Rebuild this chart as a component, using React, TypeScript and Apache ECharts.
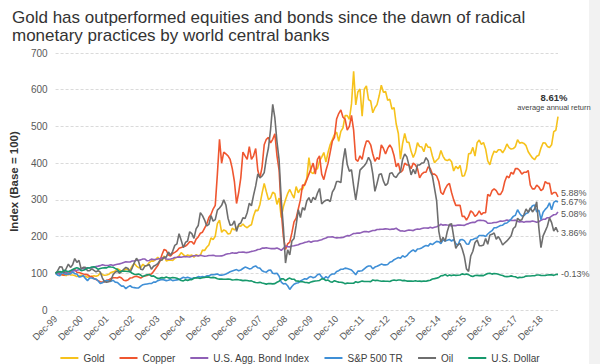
import React, { useEffect, useRef } from "react";
import * as echarts from "echarts";

const MONTHS = ["Jan","Feb","Mar","Apr","May","Jun","Jul","Aug","Sep","Oct","Nov","Dec"];
// Monthly observations Dec-1999 .. Aug-2019
const categories: string[] = (() => {
  const out: string[] = ["Dec-99"];
  for (let y = 2000; y <= 2019; y++) {
    for (let m = 0; m < 12; m++) {
      if (y === 2019 && m > 7) break;
      out.push(`${MONTHS[m]}-${String(y % 100).padStart(2, "0")}`);
    }
  }
  return out;
})();

const seriesNames = ["Gold", "Copper", "U.S. Agg. Bond Index", "S&P 500 TR", "Oil", "U.S. Dollar"];
const seriesColors = ["#f6c21c", "#ef5630", "#8f5fb6", "#3f8fd6", "#6e6e6e", "#17996c"];
const endReturns = ["8.61%", "5.88%", "5.08%", "5.67%", "3.86%", "-0.13%"];
const endLabelShift = [[0, 0], [0, -4], [0, 2], [0, 0], [0, 1], [0, 0]];
const goldNote = "average annual return";
const yTicks = { min: 0, max: 700, interval: 100 };
const yAxisTitle = "Index (Base = 100)";
const titleLines = [
  "Gold has outperformed equities and bonds since the dawn of radical",
  "monetary practices by world central banks",
];

const gold = [100,
  97.6, 105, 95.9, 94.8, 93.8, 99.3, 95.2, 95.5, 94.1, 91.0, 93.1, 94.5,
  91.4, 92.1, 89.0, 90.7, 92.1, 93.1, 91.7, 94.1, 101, 96.2, 94.8, 95.5,
  97.2, 102.4, 103.8, 106.2, 112.4, 109.7, 104.8, 107.6, 111.7, 109.3, 110, 119.7,
  126.6, 119.7, 115.2, 115.9, 124.5, 119.3, 122.1, 129.3, 133.8, 133.1, 137.2, 143.4,
  137.6, 136.6, 147.2, 133.8, 135.5, 136.2, 134.8, 140.7, 143.4, 147.6, 156.2, 151,
  145.5, 150, 147.6, 150, 143.8, 150.7, 147.9, 149.3, 163.1, 162.1, 171, 176.9,
  196.2, 191.7, 201, 235, 245, 211.7, 218.3, 215.2, 206.9, 208.3, 222.8, 217.9,
  224.5, 229.3, 228.3, 234.1, 227.6, 224.1, 229.3, 232.1, 256.2, 272.1, 270, 287.6,
  318.3, 345, 322, 300.7, 305.5, 320.7, 316.6, 287.6, 304.8, 251.7, 281, 300,
  316.9, 328.3, 315.9, 304.5, 336.2, 319.3, 329.3, 329.3, 343.4, 358.6, 415, 374.8,
  371.7, 382.4, 384.5, 406.6, 416.2, 429, 403.1, 429.7, 450.7, 464.1, 477.9, 484.5,
  459.7, 486.6, 496.2, 529.3, 529.7, 519.3, 561.4, 650, 558.6, 593.8, 602.1, 527.9,
  601.4, 610.3, 573.1, 569.3, 537.2, 551, 559.3, 583.4, 612.4, 593.1, 595.2, 571.4,
  573.8, 547.6, 551, 506.6, 480.7, 411, 453.1, 480.7, 457.2, 456.6, 432.1, 415.5,
  429, 455.5, 445.2, 444.1, 431, 453.4, 443.1, 443.1, 419.3, 401.4, 407.9, 413.4,
  434.5, 418.6, 409.3, 406.9, 410.7, 403.8, 378.6, 391.4, 384.5, 393.8, 364.5, 365.5,
  383.1, 425.5, 426.6, 443.1, 419, 455.5, 462.8, 451.4, 455.9, 438.6, 406.2, 395.2,
  417.9, 432.8, 429.3, 436.6, 436.6, 428.3, 437.6, 452.1, 442.4, 438.3, 439.7, 445.2,
  463.8, 454.5, 456.2, 453.8, 447.6, 431, 422.1, 414.1, 409.3, 419, 421.4, 441,
  455.5, 454.8, 445.5, 442.4, 450, 485.9, 489.7, 526.9];

const copper = [100,
  102, 97, 96, 95, 99, 96, 104, 108, 110, 103, 102, 100,
  98, 97, 96, 92, 91, 86, 83, 80, 77, 76, 77, 81,
  82, 86, 88, 88, 87, 90, 87, 81, 80, 82, 87, 88,
  91, 92, 90, 87, 91, 93, 94, 97, 98, 105, 113, 121,
  133, 151, 165, 162, 150, 147, 154, 157, 161, 168, 170, 173,
  174, 179, 186, 186, 179, 193, 199, 209, 212, 223, 234, 252,
  260, 275, 285, 370, 465, 400, 430, 425, 420, 410, 385, 350,
  290, 320, 360, 430, 420, 410, 445, 410, 420, 440, 380, 360,
  390, 450, 465, 470, 455, 465, 480, 420, 380, 270, 200, 165,
  180, 185, 210, 240, 250, 275, 300, 340, 340, 355, 370, 385,
  400, 370, 410, 420, 370, 355, 380, 400, 430, 460, 470, 520,
  535, 545, 525, 520, 490, 500, 530, 490, 410, 405, 420, 410,
  440, 460, 460, 450, 425, 405, 415, 410, 450, 440, 425, 440,
  450, 440, 420, 390, 400, 375, 380, 400, 395, 395, 385, 400,
  395, 385, 360, 370, 375, 375, 390, 385, 370, 370, 365, 350,
  320, 315, 330, 340, 345, 320, 300, 285, 285, 285, 255, 255,
  245, 255, 270, 265, 255, 260, 270, 260, 265, 265, 315, 310,
  325, 330, 325, 315, 315, 325, 350, 365, 360, 375, 370, 385,
  385, 380, 370, 375, 375, 380, 340, 330, 330, 340, 335, 325,
  330, 350, 345, 345, 315, 320, 320, 308];

const bond = [100,
  99.7, 101.0, 102.4, 102.1, 102.0, 104.1, 105.1, 106.6, 107.3, 108.0, 109.8, 111.6,
  113.4, 114.4, 115.0, 114.5, 115.2, 115.6, 118.2, 119.5, 120.9, 123.4, 121.7, 121.0,
  121.9, 123.1, 121.1, 123.4, 124.5, 125.6, 127.1, 129.3, 131.4, 130.8, 130.8, 133.4,
  133.6, 135.5, 135.4, 136.5, 139.1, 138.8, 134.1, 135.0, 138.6, 137.3, 137.6, 138.9,
  140.1, 141.6, 142.7, 139.0, 138.4, 139.1, 140.5, 143.2, 143.5, 144.7, 143.5, 144.9,
  145.8, 145.0, 144.3, 146.2, 147.8, 148.6, 147.2, 149.1, 147.6, 146.4, 147.0, 148.4,
  148.5, 149.0, 147.5, 147.2, 147.0, 147.3, 149.3, 151.6, 153.0, 154.1, 155.9, 154.8,
  154.8, 157.2, 157.2, 158.0, 156.9, 156.4, 157.7, 159.6, 160.8, 162.2, 165.0, 165.6,
  168.4, 168.6, 169.5, 168.4, 167.3, 167.4, 167.2, 168.8, 166.4, 162.4, 167.7, 174.2,
  172.6, 172.0, 174.4, 175.2, 176.5, 177.5, 180.3, 182.1, 184.1, 185.0, 187.4, 184.5,
  187.3, 188.0, 187.8, 189.8, 191.3, 194.3, 196.2, 198.7, 198.9, 199.6, 197.4, 196.5,
  196.7, 197.2, 197.3, 200.0, 202.6, 202.0, 205.3, 208.3, 208.8, 209.6, 209.4, 211.8,
  213.6, 213.6, 212.4, 214.6, 216.4, 216.5, 219.3, 219.5, 219.8, 220.3, 220.9, 220.7,
  219.1, 220.2, 220.4, 222.7, 218.5, 215.1, 215.4, 214.3, 216.3, 218.1, 217.3, 216.3,
  219.1, 220.5, 220.0, 221.7, 223.4, 223.5, 222.9, 225.3, 223.6, 225.3, 226.9, 229.3,
  233.5, 231.1, 232.2, 231.4, 230.9, 228.5, 230.1, 229.8, 231.3, 231.3, 230.7, 230.4,
  233.5, 235.3, 237.6, 238.6, 238.6, 242.9, 244.4, 244.1, 243.9, 241.9, 236.4, 236.4,
  236.9, 238.5, 238.4, 240.2, 242.1, 241.9, 242.9, 245.1, 244.0, 244.1, 243.8, 244.7,
  241.9, 239.6, 241.1, 239.3, 241.0, 240.6, 240.7, 242.3, 240.8, 238.9, 240.3, 244.7,
  247.3, 247.2, 251.4, 251.5, 255.7, 259.5, 260.1, 267.1];

const sp500 = [100,
  95, 93, 102, 99, 97, 99, 98, 104, 99, 98, 90, 91,
  94, 86, 80, 87, 87, 85, 84, 79, 72, 74, 79, 80,
  79, 78, 81, 76, 75, 70, 65, 65, 58, 63, 66, 62,
  61, 60, 60, 65, 69, 70, 71, 72, 72, 76, 76, 80,
  82, 83, 82, 80, 81, 83, 80, 81, 82, 83, 86, 89,
  87, 89, 87, 85, 88, 88, 91, 90, 91, 90, 93, 93,
  96, 96, 97, 98, 95, 95, 96, 98, 101, 104, 106, 108,
  110, 107, 109, 113, 117, 115, 112, 113, 118, 120, 115, 114,
  107, 104, 103, 108, 109, 100, 99, 100, 92, 76, 71, 72,
  66, 56, 64, 70, 73, 74, 79, 82, 85, 84, 89, 91,
  88, 90, 96, 98, 90, 85, 91, 87, 95, 98, 98, 105,
  107, 111, 111, 114, 113, 111, 109, 103, 96, 106, 106, 107,
  112, 117, 120, 120, 112, 117, 119, 122, 125, 123, 123, 124,
  130, 132, 137, 140, 143, 141, 148, 144, 148, 155, 160, 164,
  159, 166, 167, 169, 173, 176, 174, 181, 178, 183, 187, 186,
  181, 191, 188, 190, 192, 188, 192, 181, 176, 191, 192, 189,
  180, 179, 191, 192, 195, 196, 203, 203, 203, 200, 207, 212,
  216, 224, 224, 227, 230, 231, 236, 237, 242, 248, 255, 258,
  273, 263, 256, 257, 263, 265, 275, 284, 286, 267, 272, 246,
  266, 274, 280, 292, 273, 293, 297, 294];

const oil = [100,
  107, 118, 117, 101, 113, 125, 116, 123, 140, 130, 135, 112,
  116, 116, 107, 107, 112, 108, 104, 107, 103, 87, 77, 76,
  77, 81, 96, 103, 106, 100, 105, 111, 116, 113, 103, 115,
  129, 141, 132, 111, 110, 120, 121, 124, 111, 119, 122, 126,
  135, 136, 144, 144, 158, 149, 160, 176, 180, 208, 190, 170,
  184, 188, 213, 208, 195, 221, 230, 265, 257, 245, 229, 233,
  257, 242, 246, 272, 278, 285, 300, 286, 250, 231, 232, 243,
  214, 233, 237, 251, 249, 265, 291, 284, 313, 338, 371, 360,
  365, 374, 413, 442, 492, 560, 523, 458, 408, 300, 225, 128,
  164, 150, 188, 195, 231, 273, 252, 279, 272, 297, 306, 292,
  307, 300, 318, 331, 289, 295, 299, 300, 295, 321, 331, 350,
  350, 347, 404, 440, 396, 378, 382, 338, 300, 339, 381, 387,
  393, 401, 416, 405, 371, 323, 345, 369, 371, 351, 339, 345,
  372, 374, 364, 361, 371, 376, 410, 425, 417, 394, 368, 383,
  371, 395, 395, 400, 401, 415, 406, 378, 365, 331, 297, 215,
  185, 198, 187, 214, 233, 235, 200, 168, 178, 181, 166, 146,
  112, 105, 147, 160, 183, 191, 175, 175, 177, 195, 179, 204,
  206, 210, 193, 200, 190, 177, 183, 188, 195, 202, 222, 227,
  250, 244, 246, 260, 275, 266, 278, 267, 275, 295, 224, 170,
  202, 215, 228, 251, 238, 215, 225, 212];

const dollar = [100,
  103.7, 104.6, 103.4, 108.3, 106.4, 104.4, 107.3, 110.2, 112.9, 115.4, 113.2, 107.1,
  108.5, 110.4, 115.0, 114.3, 117.0, 117.9, 114.9, 110.9, 112.9, 114.2, 115.3, 114.7,
  118.0, 117.1, 116.4, 113.3, 110.3, 104.1, 105.8, 105.5, 105.4, 104.9, 104.6, 100.1,
  97.3, 96.9, 97.8, 95.1, 90.8, 93.9, 95.9, 96.6, 92.1, 93.0, 89.3, 85.8,
  86.8, 88.2, 87.0, 89.7, 87.5, 86.9, 88.6, 87.8, 86.3, 83.5, 80.4, 79.4,
  82.2, 80.7, 82.7, 82.8, 86.4, 87.8, 87.3, 86.2, 88.1, 88.6, 89.9, 89.5,
  87.8, 88.9, 87.9, 84.9, 84.0, 84.0, 83.9, 83.8, 84.4, 83.6, 81.6, 82.2,
  83.2, 82.2, 81.3, 80.0, 80.6, 80.3, 78.8, 79.3, 76.6, 74.7, 74.4, 75.3,
  73.6, 72.4, 70.5, 72.1, 71.8, 71.2, 71.9, 75.7, 78.1, 84.8, 85.2, 79.8,
  84.4, 86.9, 83.8, 83.9, 78.8, 78.6, 77.2, 77.0, 75.3, 75.1, 73.4, 76.5,
  78.0, 78.8, 79.5, 80.4, 84.8, 84.4, 80.2, 81.6, 77.2, 75.9, 79.8, 77.5,
  75.9, 75.5, 74.5, 71.7, 73.2, 72.9, 72.7, 72.9, 77.1, 74.9, 76.9, 78.7,
  77.8, 77.5, 77.5, 77.4, 81.7, 80.1, 81.1, 79.7, 78.5, 78.7, 78.5, 78.3,
  77.7, 80.5, 81.5, 80.4, 81.8, 81.7, 79.9, 80.6, 78.7, 78.7, 79.2, 78.5,
  79.7, 78.2, 78.6, 78.0, 78.9, 78.3, 80.0, 81.2, 84.4, 85.4, 86.8, 88.6,
  93.1, 93.6, 96.6, 92.9, 95.1, 93.7, 95.5, 94.3, 94.6, 95.3, 98.4, 96.9,
  97.8, 96.4, 92.9, 91.4, 94.1, 94.3, 93.7, 94.2, 93.6, 96.7, 99.6, 100.3,
  97.7, 99.2, 98.6, 97.3, 95.2, 93.8, 91.2, 91.0, 91.4, 92.9, 91.3, 90.4,
  87.5, 88.9, 88.5, 90.1, 92.3, 92.8, 92.8, 93.4, 93.4, 95.3, 95.5, 94.4,
  93.8, 94.4, 95.5, 95.7, 95.9, 94.3, 96.7, 97.1];

const seriesData = [gold, copper, bond, sp500, oil, dollar];

const FONT = "'Liberation Sans', Arial, Helvetica, sans-serif";

export default function App() {
  const ref = useRef<HTMLDivElement>(null);
  useEffect(() => {
    if (!ref.current) return;
    const chart = echarts.init(ref.current, undefined, { renderer: "svg" });
    const series = seriesNames.map((name, i) => ({
      name,
      type: "line" as const,
      data: seriesData[i],
      showSymbol: false,
      symbol: "none",
      smooth: false,
      lineStyle: { width: 1.6, color: seriesColors[i] },
      itemStyle: { color: seriesColors[i] },
      emphasis: { disabled: true },
      endLabel: i === 0
        ? {
            show: true,
            formatter: `{a|${endReturns[0]}}\n{b|${goldNote}}`,
            align: "center",
            verticalAlign: "bottom",
            offset: [-12, -4],
            rich: {
              a: { fontSize: 9.5, fontWeight: "bold", color: "#333", fontFamily: FONT, lineHeight: 11, align: "center" },
              b: { fontSize: 7.5, color: "#444", fontFamily: FONT, lineHeight: 10, align: "center" },
            },
          }
        : {
            show: true,
            formatter: endReturns[i],
            fontSize: 9,
            lineHeight: 8,
            color: "#555",
            fontFamily: FONT,
            distance: 3,
            offset: endLabelShift[i],
          },
    }));
    chart.setOption({
      animation: false,
      textStyle: { fontFamily: FONT },
      title: {
        text: titleLines.join("\n"),
        left: 7,
        top: 3,
        textStyle: { fontSize: 17, fontWeight: "normal", color: "#333", lineHeight: 18, fontFamily: FONT },
      },
      graphic: [
        { type: "rect", left: 589, top: 0, shape: { width: 11, height: 364 }, style: { fill: "#f2f2f2" }, z: -10 },
      ],
      grid: { left: 44, right: 42, top: 53, bottom: 54, containLabel: false },
      legend: {
        data: seriesNames,
        left: "center",
        top: 348,
        icon: "rect",
        itemWidth: 18,
        itemHeight: 2,
        itemGap: 15,
        textStyle: { fontSize: 10, color: "#404040", fontFamily: FONT },
      },
      xAxis: {
        type: "category",
        data: categories,
        boundaryGap: false,
        axisLine: { show: false },
        axisTick: { show: false },
        splitLine: { show: false },
        axisLabel: {
          rotate: 45,
          fontSize: 9.5,
          color: "#595959",
          margin: 7,
          interval: (_i: number, v: string) => v.startsWith("Dec"),
        },
      },
      yAxis: {
        type: "value",
        min: yTicks.min,
        max: yTicks.max,
        interval: yTicks.interval,
        name: yAxisTitle,
        nameLocation: "middle",
        nameGap: 27,
        nameTextStyle: { fontSize: 11.5, fontWeight: "bold", color: "#333" },
        axisLine: { show: false },
        axisTick: { show: false },
        axisLabel: { fontSize: 10, color: "#595959", margin: 8 },
        splitLine: { lineStyle: { type: [3, 2], color: "#dadada", width: 1 } },
      },
      series,
    });
    return () => chart.dispose();
  }, []);
  return <div ref={ref} style={{ position: "fixed", left: 0, top: 0, width: 600, height: 364, background: "#fff" }} />;
}
